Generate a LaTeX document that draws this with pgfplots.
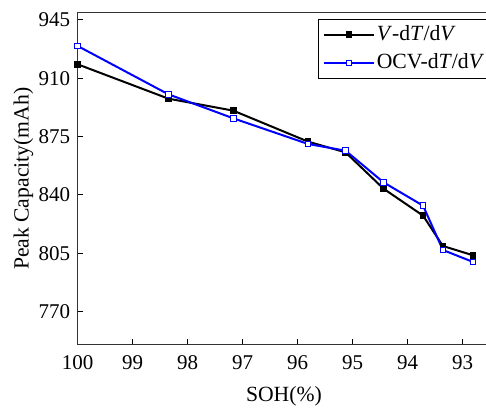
\documentclass[border=0pt]{standalone}
\usepackage{fontspec}
\setmainfont{Liberation Serif}
\usepackage{pgfplots}
\pgfplotsset{compat=1.18}
\begin{document}
\fontsize{13}{15.6}\selectfont
\begin{tikzpicture}
\path[use as bounding box] (-46.62pt,-39pt) rectangle (244.98pt,207pt);
\begin{axis}[
  at={(0,0)}, anchor=south west,
  scale only axis,
  width=247.5pt, height=199.4pt,
  xmin=92.5, xmax=100, x dir=reverse,
  ymin=750, ymax=949.4,
  xtick={93,94,95,96,97,98,99,100},
  ytick={770,805,840,875,910,945},
  tick align=inside,
  xtick pos=bottom, ytick pos=left,
  major tick length=3.4pt,
  axis line style={line width=0.6pt, black!80},
  tick style={line width=0.6pt, black},
  /pgf/number format/assume math mode=true,
  xticklabel style={yshift=-1.6pt, font=\fontsize{12.6}{15}\selectfont},
  yticklabel style={font=\fontsize{12.6}{15}\selectfont},
  xlabel={SOH(\%)},
  ylabel={Peak Capacity(mAh)},
  every axis x label/.style={at={(axis description cs:0.5,-0.1555)}, anchor=center, font=\fontsize{13}{15.6}\selectfont},
  every axis y label/.style={at={(axis description cs:-0.1317,0.5)}, rotate=90, anchor=center, font=\fontsize{13}{15.6}\selectfont},
  legend style={at={(axis description cs:0.583,0.981)}, anchor=north west,
    draw=black, line width=0.6pt, inner sep=2.5pt, row sep=3.5pt,
    nodes={inner sep=1.2pt},
    font=\fontsize{13}{15.6}\selectfont, cells={anchor=west}},
  legend image code/.code={\draw[mark repeat=2,mark phase=2] plot coordinates {(0pt,0pt) (15pt,0pt) (30pt,0pt)};},
]
\addplot[black, line width=1.2pt, mark=square*, mark size=1.7pt, mark options={line width=0.6pt, fill=black}]
coordinates {(100,918.4) (98.35,897.8) (97.17,890.6) (95.81,872) (95.13,865.6) (94.44,843.8) (93.72,827.6) (93.36,809.4) (92.81,803.8)};
\addlegendentry{\textit{V}-d\textit{T}/d\textit{V}}
\addplot[blue, line width=1.2pt, mark=square*, mark size=1.7pt, mark options={line width=0.6pt, fill=white, draw=blue}]
coordinates {(100,929.4) (98.35,900.4) (97.17,886) (95.81,870.6) (95.13,866.6) (94.44,847.6) (93.72,833.6) (93.36,807) (92.81,799.8)};
\addlegendentry{OCV-d\textit{T}/d\textit{V}}
\end{axis}
\end{tikzpicture}
\end{document}
